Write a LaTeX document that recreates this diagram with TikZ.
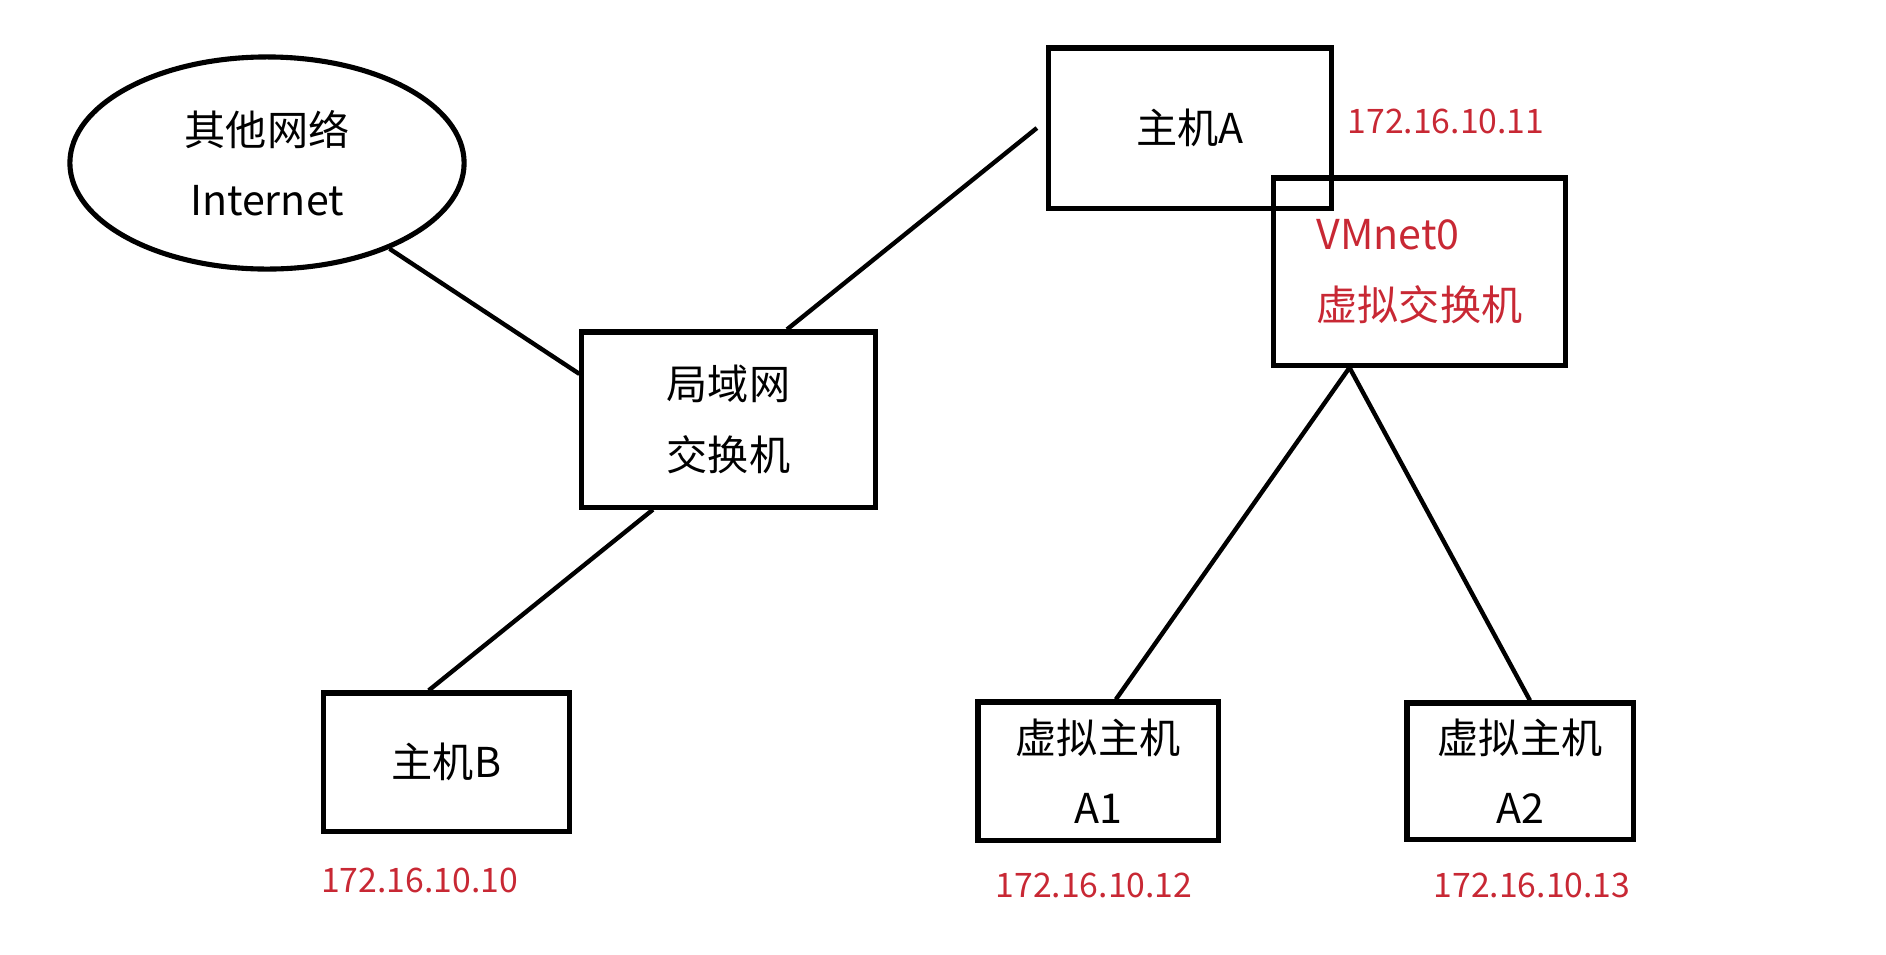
\documentclass[tikz,border=0pt]{standalone}
\usepackage{fontspec}
\setmainfont{Noto Sans CJK SC}
\usepackage{xcolor}
\usepackage{tikz}
\usetikzlibrary{shapes.geometric,calc}
\definecolor{ipred}{RGB}{200,40,52}

\begin{document}
\begin{tikzpicture}[
    x=0.01cm, y=-0.01cm,
    font=\fontsize{11.7pt}{20pt}\selectfont,
    box/.style={draw, line width=1.45pt, inner sep=0pt, align=center},
    ip/.style={text=ipred, font=\fontsize{9.6pt}{11pt}\selectfont},
    link/.style={line width=1.25pt}
]
\useasboundingbox (0,0) rectangle (1886,954);

\node[box, ellipse, minimum width=3.94cm, minimum height=2.12cm] (net) at (267,163) {其他网络\\Internet};
\node[box, minimum width=2.93cm, minimum height=1.75cm] (lan) at (728.5,419.5) {局域网\\交换机};
\node[box, minimum width=2.83cm, minimum height=1.60cm] (hostA) at (1190,128) {主机A};
\node[box, minimum width=2.91cm, minimum height=1.87cm, text=ipred, align=left] (vm) at (1419.5,271.5) {VMnet0\\虚拟交换机};
\node[box, minimum width=2.45cm, minimum height=1.38cm] (hostB) at (446.5,762) {主机B};
\node[box, minimum width=2.40cm, minimum height=1.38cm] (a1) at (1098,771) {虚拟主机\\A1};
\node[box, minimum width=2.26cm, minimum height=1.36cm] (a2) at (1520,771) {虚拟主机\\A2};

\node[ip] (ipA) at (1446,121) {172.16.10.11};
\node[ip] (ipB) at (419.5,880) {172.16.10.10};
\node[ip] (ipA1) at (1094,885) {172.16.10.12};
\node[ip] (ipA2) at (1532,885) {172.16.10.13};

\coordinate (vmport) at ($(vm.south)+(-70,0)$);
\coordinate (hostAport) at ($(hostA.west)+(-9,0)$);

\draw[link] (net.-35) -- (lan.163);
\draw[link] (lan.57) -- (hostAport);
\draw[link] (lan.230) -- (hostB.104);
\draw[link] (vmport) -- (a1.76);
\draw[link] (vmport) -- (a2.82);
\end{tikzpicture}
\end{document}
